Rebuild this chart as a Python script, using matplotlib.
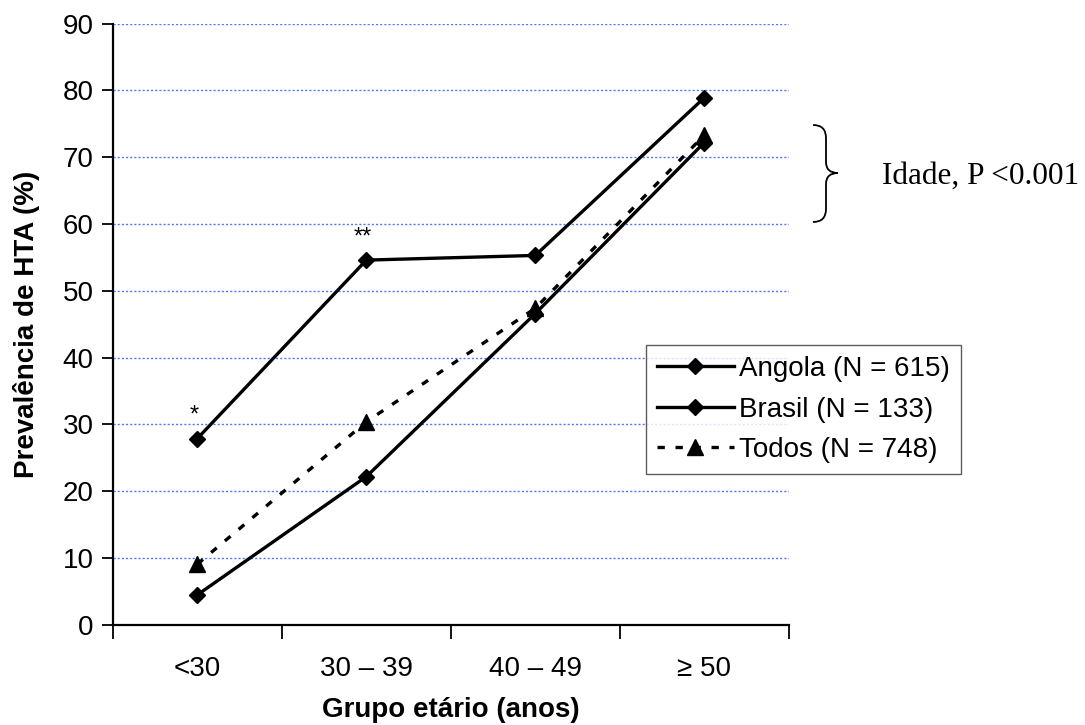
import matplotlib.pyplot as plt
from matplotlib.path import Path
from matplotlib.patches import PathPatch

plt.rcParams['font.family'] = ['Liberation Sans', 'DejaVu Sans']

grupos = ['<30', '30 – 39', '40 – 49', '≥ 50']
angola = [4.5, 22.2, 46.6, 72.2]
brasil = [27.9, 54.6, 55.3, 78.9]
todos = [9.1, 30.4, 47.4, 73.3]
signif = ['*', '**', '', '']

FS = 20

fig = plt.figure(figsize=(10.85, 7.25), dpi=100)
ax = fig.add_axes([0.104, 0.138, 0.623, 0.8295])

x = list(range(1, len(grupos) + 1))
ax.plot(x, angola, color='black', lw=2.4, marker='D', ms=8.5, label='Angola (N = 615)', zorder=3)
ax.plot(x, brasil, color='black', lw=2.4, marker='D', ms=8.5, label='Brasil (N = 133)', zorder=3)
ax.plot(x, todos, color='black', lw=2.4, ls=(0, (2.2, 3.2)), marker='^', ms=11,
        label='Todos (N = 748)', zorder=3)

# significance marks above the Brasil points
for xi, yi, s in zip(x, brasil, signif):
    if s:
        ax.text(xi - 0.02, yi + 1.8, s, ha='center', va='bottom', fontsize=17)

ax.set_xlim(0.5, len(grupos) + 0.5)
ax.set_ylim(0, 90)
ax.set_yticks(range(0, 91, 10))
ax.set_xticks([i + 0.5 for i in range(len(grupos) + 1)])
ax.set_xticklabels([])
ax.set_xticks(x, minor=True)
ax.set_xticklabels(grupos, minor=True)
ax.tick_params(axis='x', which='major', length=10, width=1.3, direction='out')
ax.tick_params(axis='x', which='minor', length=0, pad=22, labelsize=FS)
ax.tick_params(axis='y', length=8, width=1.3, direction='out', pad=6, labelsize=FS)

ax.grid(axis='y', color='#4f78ff', ls=(0, (1.5, 1.5)), lw=1)
ax.set_axisbelow(True)
for side in ['top', 'right']:
    ax.spines[side].set_visible(False)
for side in ['left', 'bottom']:
    ax.spines[side].set_linewidth(1.6)

ax.set_xlabel('Grupo etário (anos)', fontsize=FS, fontweight='bold', labelpad=11)
ax.set_ylabel('Prevalência de HTA (%)', fontsize=FS, fontweight='bold', labelpad=16)

leg = fig.legend(loc='upper left', bbox_to_anchor=(646 / 1085, 1 - 345 / 725),
                 fontsize=FS, frameon=True, fancybox=False, handlelength=2.75,
                 handletextpad=0.2, borderpad=0.4, labelspacing=0.52, borderaxespad=0)
leg.get_frame().set_edgecolor('#333333')
leg.get_frame().set_linewidth(1.0)

# curly brace next to the top of the lines
W, H = 1085, 725
def fp(px, py):
    return (px / W, 1 - py / H)

codes = [Path.MOVETO, Path.CURVE3, Path.CURVE3, Path.LINETO,
         Path.CURVE3, Path.CURVE3, Path.CURVE3, Path.CURVE3,
         Path.LINETO, Path.CURVE3, Path.CURVE3]
verts = [fp(813, 125), fp(826, 125), fp(826, 138),
         fp(826, 162), fp(826, 173), fp(838, 173),
         fp(826, 173), fp(826, 184),
         fp(826, 209), fp(826, 222), fp(813, 222)]
brace = PathPatch(Path(verts, codes), transform=fig.transFigure,
                  fill=False, lw=1.3, color='black')
fig.patches.append(brace)
fig.text(882 / W, 1 - 176 / H, 'Idade, P <0.001', family='Liberation Serif',
         fontsize=22.5, ha='left', va='center')

fig.savefig('out.png', dpi=100)
